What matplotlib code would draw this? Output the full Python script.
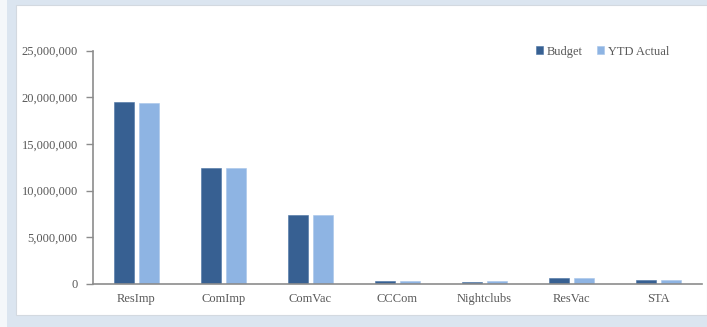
import numpy as np
import matplotlib.pyplot as plt
from matplotlib.patches import Rectangle
from matplotlib.ticker import FuncFormatter

categories = ["ResImp", "ComImp", "ComVac", "CCCom", "Nightclubs", "ResVac", "STA"]
budget = [19500000, 12410000, 7370000, 290000, 215000, 570000, 350000]
ytd_actual = [19360000, 12410000, 7360000, 290000, 290000, 560000, 350000]

plt.rcParams['font.family'] = ['Liberation Serif', 'DejaVu Serif']

W, H = 707, 327
fig = plt.figure(figsize=(W / 100, H / 100), dpi=100)
fig.patch.set_facecolor('#f4f7fa')

# light blue frame and white chart panel behind the axes
frame = Rectangle((7 / W, 0), 1, 1, transform=fig.transFigure,
                  facecolor='#dbe5f0', edgecolor='none', zorder=-2)
panel = Rectangle((16 / W, 12 / H), (W - 16) / W, 310 / H, transform=fig.transFigure,
                  facecolor='white', edgecolor='#d3d9e0', linewidth=0.8, zorder=-1)
fig.patches.extend([frame, panel])

ax = fig.add_axes([93 / W, (H - 283.7) / H, (701.7 - 93) / W, (283.7 - 50.7) / H])
ax.set_facecolor('none')
ax.set_zorder(1)

x = np.arange(len(categories))
w = 0.23
ax.bar(x - 0.145, budget, w, color='#376092', label='Budget', edgecolor='#4a72a4', linewidth=0.4)
ax.bar(x + 0.145, ytd_actual, w, color='#8eb4e3', label='YTD Actual', edgecolor='#a6c4ea', linewidth=0.4)

ax.set_xlim(-0.5, len(categories) - 0.5)
ax.set_ylim(0, 25000000)
ax.set_yticks(np.arange(0, 25000001, 5000000))
ax.yaxis.set_major_formatter(FuncFormatter(lambda v, p: f"{int(v):,}"))
ax.set_xticks(x)
ax.set_xticklabels(categories)

for s in ['top', 'right']:
    ax.spines[s].set_visible(False)
for s in ['left', 'bottom']:
    ax.spines[s].set_color('#8c8c8c')
    ax.spines[s].set_linewidth(1.2)

ax.tick_params(axis='y', length=5, width=1, color='#8c8c8c', labelsize=9, labelcolor='#595959', pad=6)
ax.tick_params(axis='x', length=0, labelsize=9, labelcolor='#595959', pad=7)

leg = ax.legend(loc='upper right', bbox_to_anchor=(0.965, 1.07), ncol=2, frameon=False,
                fontsize=9, handlelength=0.6, handleheight=0.6, handletextpad=0.3,
                columnspacing=1.1)
for t in leg.get_texts():
    t.set_color('#595959')

fig.savefig('out.png', dpi=100, facecolor=fig.get_facecolor())
